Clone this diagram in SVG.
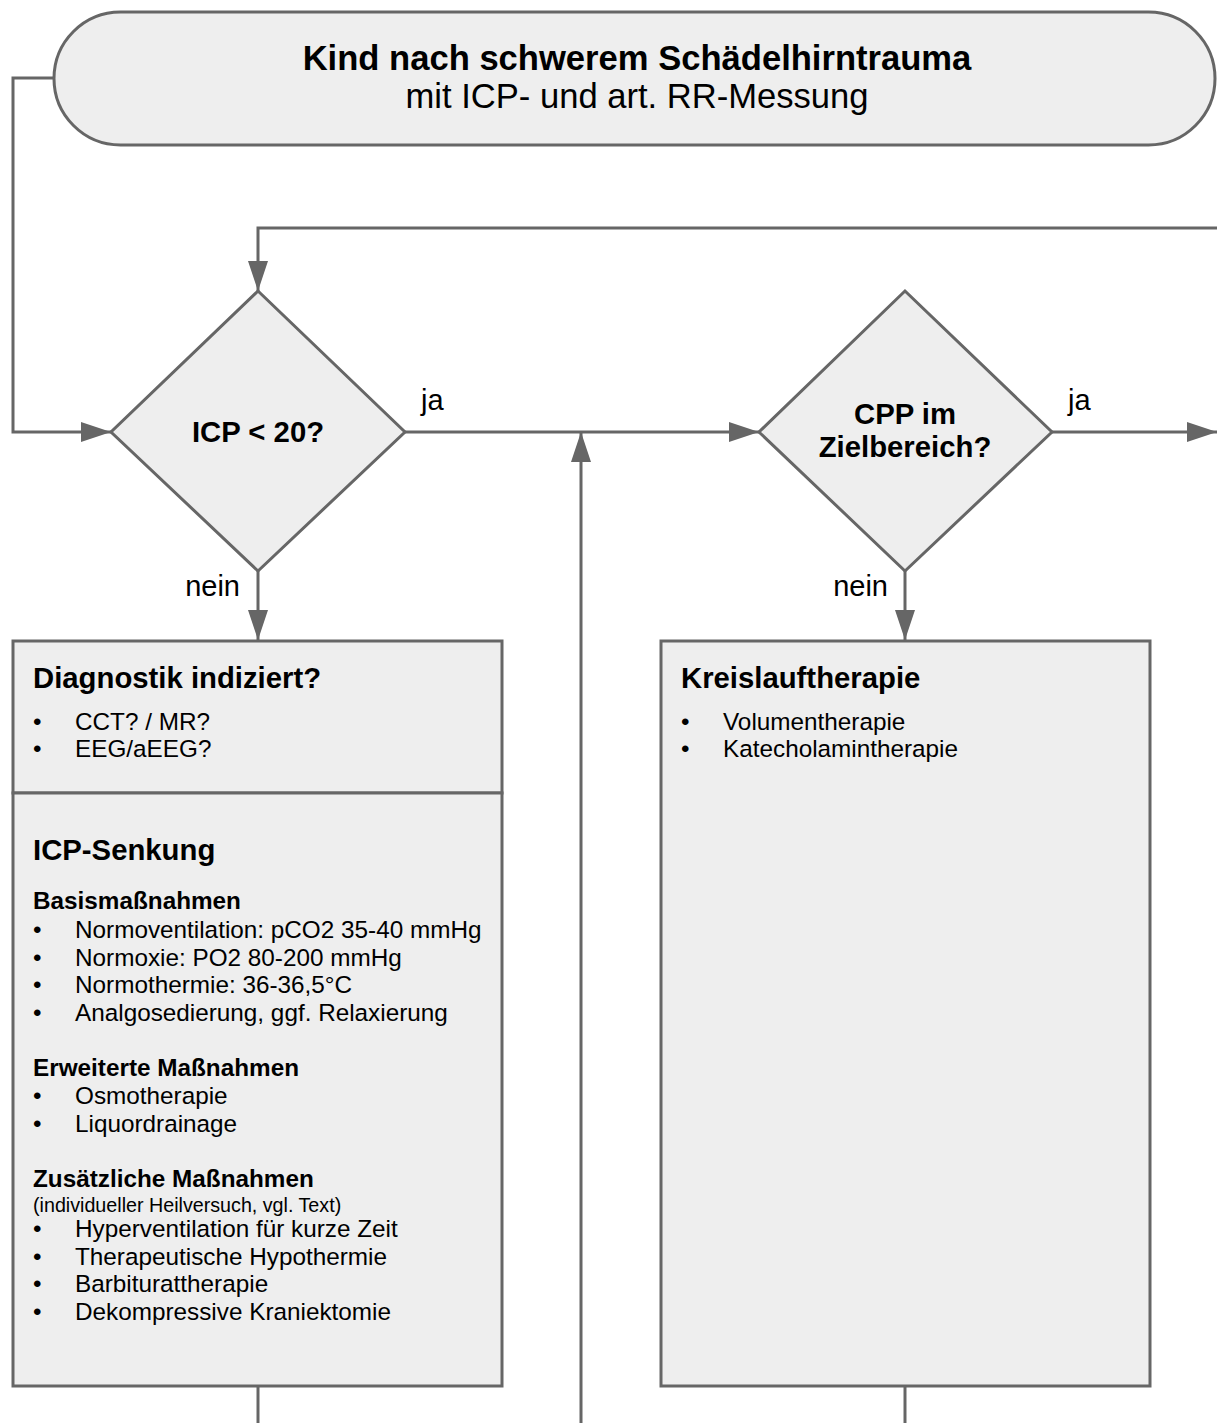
<svg xmlns="http://www.w3.org/2000/svg" width="1217" height="1423" viewBox="0 0 1217 1423">
<style>
.shape{fill:#eeeeee;stroke:#666666;stroke-width:3}
.line{fill:none;stroke:#666666;stroke-width:3}
text{font-family:"Liberation Sans",Arial,sans-serif;fill:#000}
.h{font-weight:bold;font-size:29.3px}
.t{font-weight:bold;font-size:34.6px}
.st{font-size:34.6px}
.s{font-weight:bold;font-size:24.3px}
.i{font-size:24.3px}
.sm{font-size:19.7px}
.lbl{font-size:29px}
</style>
<defs>
<marker id="arr" viewBox="0 0 30 20" refX="30" refY="10" markerWidth="30" markerHeight="20" markerUnits="userSpaceOnUse" orient="auto">
<path d="M0,0 L30,10 L0,20 Z" fill="#666666"/>
</marker>
</defs>
<rect width="1217" height="1423" fill="#ffffff"/>
<g id="connectors">
<path class="line" d="M54,78 H13 V432 H111" marker-end="url(#arr)"/>
<path class="line" d="M1217,228 H258 V291" marker-end="url(#arr)"/>
<path class="line" d="M405,432 H759" marker-end="url(#arr)"/>
<path class="line" d="M581,1423 V432" marker-end="url(#arr)"/>
<path class="line" d="M1052,432 H1217" marker-end="url(#arr)"/>
<path class="line" d="M258,571 V640" marker-end="url(#arr)"/>
<path class="line" d="M905,571 V640" marker-end="url(#arr)"/>
<path class="line" d="M258,1386 V1423"/>
<path class="line" d="M905,1386 V1423"/>
<text class="lbl" x="421" y="410">ja</text>
<text class="lbl" x="1068" y="410">ja</text>
<text class="lbl" x="240" y="596" text-anchor="end">nein</text>
<text class="lbl" x="888" y="596" text-anchor="end">nein</text>
</g>
<g id="start">
<rect class="shape" x="54" y="12" width="1161" height="133" rx="66.5" ry="66.5"/>
<text class="t" x="637" y="70" text-anchor="middle">Kind nach schwerem Schädelhirntrauma</text>
<text class="st" x="637" y="108" text-anchor="middle">mit ICP- und art. RR-Messung</text>
</g>
<g id="icp-decision">
<path class="shape" d="M258,291 L405,432 L258,571 L111,432 Z"/>
<text class="h" x="258" y="442" text-anchor="middle">ICP &lt; 20?</text>
</g>
<g id="cpp-decision">
<path class="shape" d="M905,291 L1052,432 L905,571 L759,432 Z"/>
<text class="h" x="905" y="424" text-anchor="middle">CPP im</text>
<text class="h" x="905" y="457" text-anchor="middle">Zielbereich?</text>
</g>
<g id="diagnostik">
<rect class="shape" x="13" y="641" width="489" height="152"/>
<text class="h" x="33" y="688">Diagnostik indiziert?</text>
<text class="i" x="33" y="730">•</text><text class="i" x="75" y="730">CCT? / MR?</text>
<text class="i" x="33" y="757">•</text><text class="i" x="75" y="757">EEG/aEEG?</text>
</g>
<g id="icp-senkung">
<rect class="shape" x="13" y="793" width="489" height="593"/>
<text class="h" x="33" y="860">ICP-Senkung</text>
<text class="s" x="33" y="909">Basismaßnahmen</text>
<text class="i" x="33" y="938">•</text><text class="i" x="75" y="938">Normoventilation: pCO2 35-40 mmHg</text>
<text class="i" x="33" y="966">•</text><text class="i" x="75" y="966">Normoxie: PO2 80-200 mmHg</text>
<text class="i" x="33" y="993">•</text><text class="i" x="75" y="993">Normothermie: 36-36,5°C</text>
<text class="i" x="33" y="1021">•</text><text class="i" x="75" y="1021">Analgosedierung, ggf. Relaxierung</text>
<text class="s" x="33" y="1076">Erweiterte Maßnahmen</text>
<text class="i" x="33" y="1104">•</text><text class="i" x="75" y="1104">Osmotherapie</text>
<text class="i" x="33" y="1132">•</text><text class="i" x="75" y="1132">Liquordrainage</text>
<text class="s" x="33" y="1187">Zusätzliche Maßnahmen</text>
<text class="sm" x="33" y="1212">(individueller Heilversuch, vgl. Text)</text>
<text class="i" x="33" y="1237">•</text><text class="i" x="75" y="1237">Hyperventilation für kurze Zeit</text>
<text class="i" x="33" y="1265">•</text><text class="i" x="75" y="1265">Therapeutische Hypothermie</text>
<text class="i" x="33" y="1292">•</text><text class="i" x="75" y="1292">Barbiturattherapie</text>
<text class="i" x="33" y="1320">•</text><text class="i" x="75" y="1320">Dekompressive Kraniektomie</text>
</g>
<g id="kreislauf">
<rect class="shape" x="661" y="641" width="489" height="745"/>
<text class="h" x="681" y="688">Kreislauftherapie</text>
<text class="i" x="681" y="730">•</text><text class="i" x="723" y="730">Volumentherapie</text>
<text class="i" x="681" y="757">•</text><text class="i" x="723" y="757">Katecholamintherapie</text>
</g>
</svg>
